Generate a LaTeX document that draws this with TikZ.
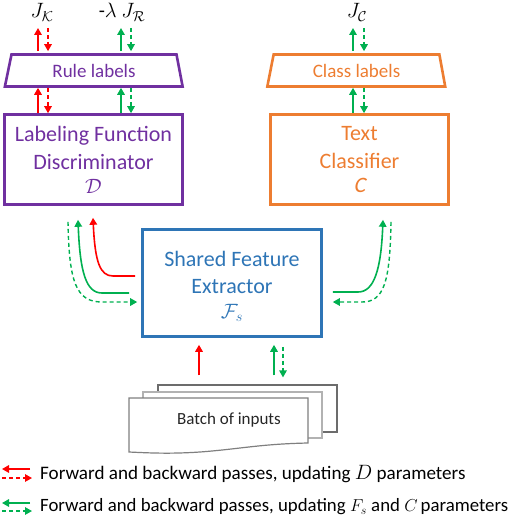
\documentclass[tikz,border=0pt]{standalone}
\usepackage{fontspec}
\setmainfont{Carlito}
\newfontfamily\cslant{Carlito}[FakeSlant=0.2]
\usetikzlibrary{arrows.meta,shapes.geometric,calc}
\definecolor{cred}{HTML}{FF0000}
\definecolor{cgreen}{HTML}{00B050}
\definecolor{cpurple}{HTML}{7030A0}
\definecolor{corange}{HTML}{ED7D31}
\definecolor{cblue}{HTML}{2E75B6}
\definecolor{cgray}{HTML}{7F7F7F}
\begin{document}
\begin{tikzpicture}[x=1pt,y=-1pt,
  tip/.style={-{Triangle[length=7pt,width=7.5pt]}},
  fwd/.style={tip, line width=1.6pt},
  bwd/.style={tip, line width=1.4pt, dash pattern=on 4pt off 3pt},
  box/.style={draw, line width=2.6pt, inner sep=0pt, align=center,
    font=\fontsize{22}{28}\selectfont},
  lab/.style={draw, trapezium, trapezium stretches=true,
    trapezium left angle=76, trapezium right angle=77, line width=2.6pt,
    minimum width=179pt, minimum height=32pt, inner sep=0pt,
    font=\fontsize{19}{22}\selectfont},
  mlab/.style={inner sep=0pt, outer sep=0pt, anchor=base, font=\fontsize{20}{24}\selectfont},
  sheet/.style={draw=cgray, fill=white, line width=1.2pt},
  leg/.style={anchor=west, inner sep=0pt}
]
\useasboundingbox (0,0) rectangle (518,516);

% label nodes at top
\node[mlab] (jk) at (42,18) {$J_{\mathcal{K}}$};
\node[mlab] (jr) at (122,18) {-$\lambda$ $J_{\mathcal{R}}$};
\node[mlab] (jc) at (357,18) {$J_{\mathcal{C}}$};

% trapezoids
\node[lab, draw=cpurple, text=cpurple] (rule) at (94,70.5) {Rule labels};
\node[lab, draw=corange, text=corange] (cls) at (356.5,70.5) {Class labels};

% boxes
\node[box, draw=cpurple, text=cpurple, minimum width=178pt, minimum height=90pt] (lfd) at (93.5,159.5)
  {Labeling Function\\Discriminator\\[-4pt]$\mathcal{D}$};
\node[box, draw=corange, text=corange, minimum width=178pt, minimum height=90pt] (tc) at (359.5,159.5)
  {Text\\Classifier\\[-4pt]{\cslant C}};
\node[box, draw=cblue, minimum width=179pt, minimum height=107pt] (sfe) at (232,283) {};
\node[text=cblue, align=center, font=\fontsize{22}{27}\selectfont, inner sep=0pt] (sfet) at (232,286)
  {Shared Feature\\Extractor\\[-2pt]$\mathcal{F}_s$};

% top arrows: labels <-> trapezoids
\draw[fwd, cred, shorten <=2pt] (rule.north -| 38,0) -- ([yshift=-10pt]jk.base -| 38,0);
\draw[bwd, cred, shorten >=2pt] ([yshift=-10pt]jk.base -| 48,0) -- (rule.north -| 48,0);
\draw[fwd, cgreen, shorten <=2pt] (rule.north -| 121,0) -- ([yshift=-10pt]jr.base -| 121,0);
\draw[bwd, cgreen, shorten >=2pt] ([yshift=-10pt]jr.base -| 131,0) -- (rule.north -| 131,0);
\draw[fwd, cgreen, shorten <=2pt] (cls.north -| 353,0) -- ([yshift=-10pt]jc.base -| 353,0);
\draw[bwd, cgreen, shorten >=2pt] ([yshift=-10pt]jc.base -| 364,0) -- (cls.north -| 364,0);

% trapezoids <-> boxes
\draw[fwd, cred] (lfd.north -| 38,0) -- (rule.south -| 38,0);
\draw[bwd, cred] (rule.south -| 48,0) -- (lfd.north -| 48,0);
\draw[fwd, cgreen] (lfd.north -| 121,0) -- (rule.south -| 121,0);
\draw[bwd, cgreen] (rule.south -| 131,0) -- (lfd.north -| 131,0);
\draw[fwd, cgreen] (tc.north -| 353,0) -- (cls.south -| 353,0);
\draw[bwd, cgreen] (cls.south -| 364,0) -- (tc.north -| 364,0);

% curved arrows, left side
\draw[fwd, cred] ($(sfe.west)+(-6,-7)$) -- (113,276)
  .. controls (100,276) and (95,262) .. ([yshift=-12pt]lfd.south -| 93,0);
\draw[fwd, cgreen] ($(sfe.west)+(-12,10)$) -- (102,293)
  .. controls (86,293) and (80,272) .. ([yshift=-14pt]lfd.south -| 78,0);
\draw[bwd, cgreen] ([yshift=-16pt]lfd.south -| 68,0)
  .. controls (69,282) and (76,302) .. (102,302) -- ($(sfe.west)+(-4,19)$);

% curved arrows, right side
\draw[fwd, cgreen] ($(sfe.east)+(10,9)$) -- (358,292)
  .. controls (374,292) and (381,270) .. ([yshift=-14pt]tc.south -| 383,0);
\draw[bwd, cgreen] ([yshift=-16pt]tc.south -| 391,0)
  .. controls (390,282) and (384,302) .. (362,302) -- ($(sfe.east)+(10,19)$);

% document stack
\node[sheet, draw=gray!85!black, minimum width=179pt, minimum height=47pt, inner sep=0pt] (back) at (247.5,408.5) {};
\draw[sheet, draw=gray!60] (143,392) rectangle (322,438);
\draw[sheet, draw=cgray] (129,398) -- (308,398) -- (308,443)
  .. controls (260,444) and (240,449) .. (200,452) .. controls (170,454) and (150,453) .. (129,452) -- cycle;
\node[inner sep=0pt, font=\fontsize{17}{20}\selectfont, text=black!85] (batch) at (229,420) {Batch of inputs};

% bottom arrows
\draw[fwd, cred, shorten >=7pt] ([yshift=9pt]back.north -| 199,0) -- (sfe.south -| 199,0);
\draw[fwd, cgreen, shorten >=7pt] ([yshift=9pt]back.north -| 274,0) -- (sfe.south -| 274,0);
\draw[bwd, cgreen, shorten <=9pt] (sfe.south -| 283,0) -- ([yshift=7pt]back.north -| 283,0);

% legend
\coordinate (l1a) at (30,469); \coordinate (l1b) at (2,469);
\coordinate (l2a) at (2,478); \coordinate (l2b) at (32,478);
\coordinate (l3a) at (30,503); \coordinate (l3b) at (2,503);
\coordinate (l4a) at (2,511); \coordinate (l4b) at (32,511);
\draw[fwd, cred] (l1a) -- (l1b);
\draw[bwd, cred] (l2a) -- (l2b);
\draw[fwd, cgreen] (l3a) -- (l3b);
\draw[bwd, cgreen] (l4a) -- (l4b);
\node[leg, font=\fontsize{19.1}{22}\selectfont] (leg1) at (40,474) {Forward and backward passes, updating $D$ parameters};
\node[leg, font=\fontsize{18.8}{22}\selectfont] (leg2) at (40,507) {Forward and backward passes, updating $F_s$ and $C$\,parameters};
\end{tikzpicture}
\end{document}
